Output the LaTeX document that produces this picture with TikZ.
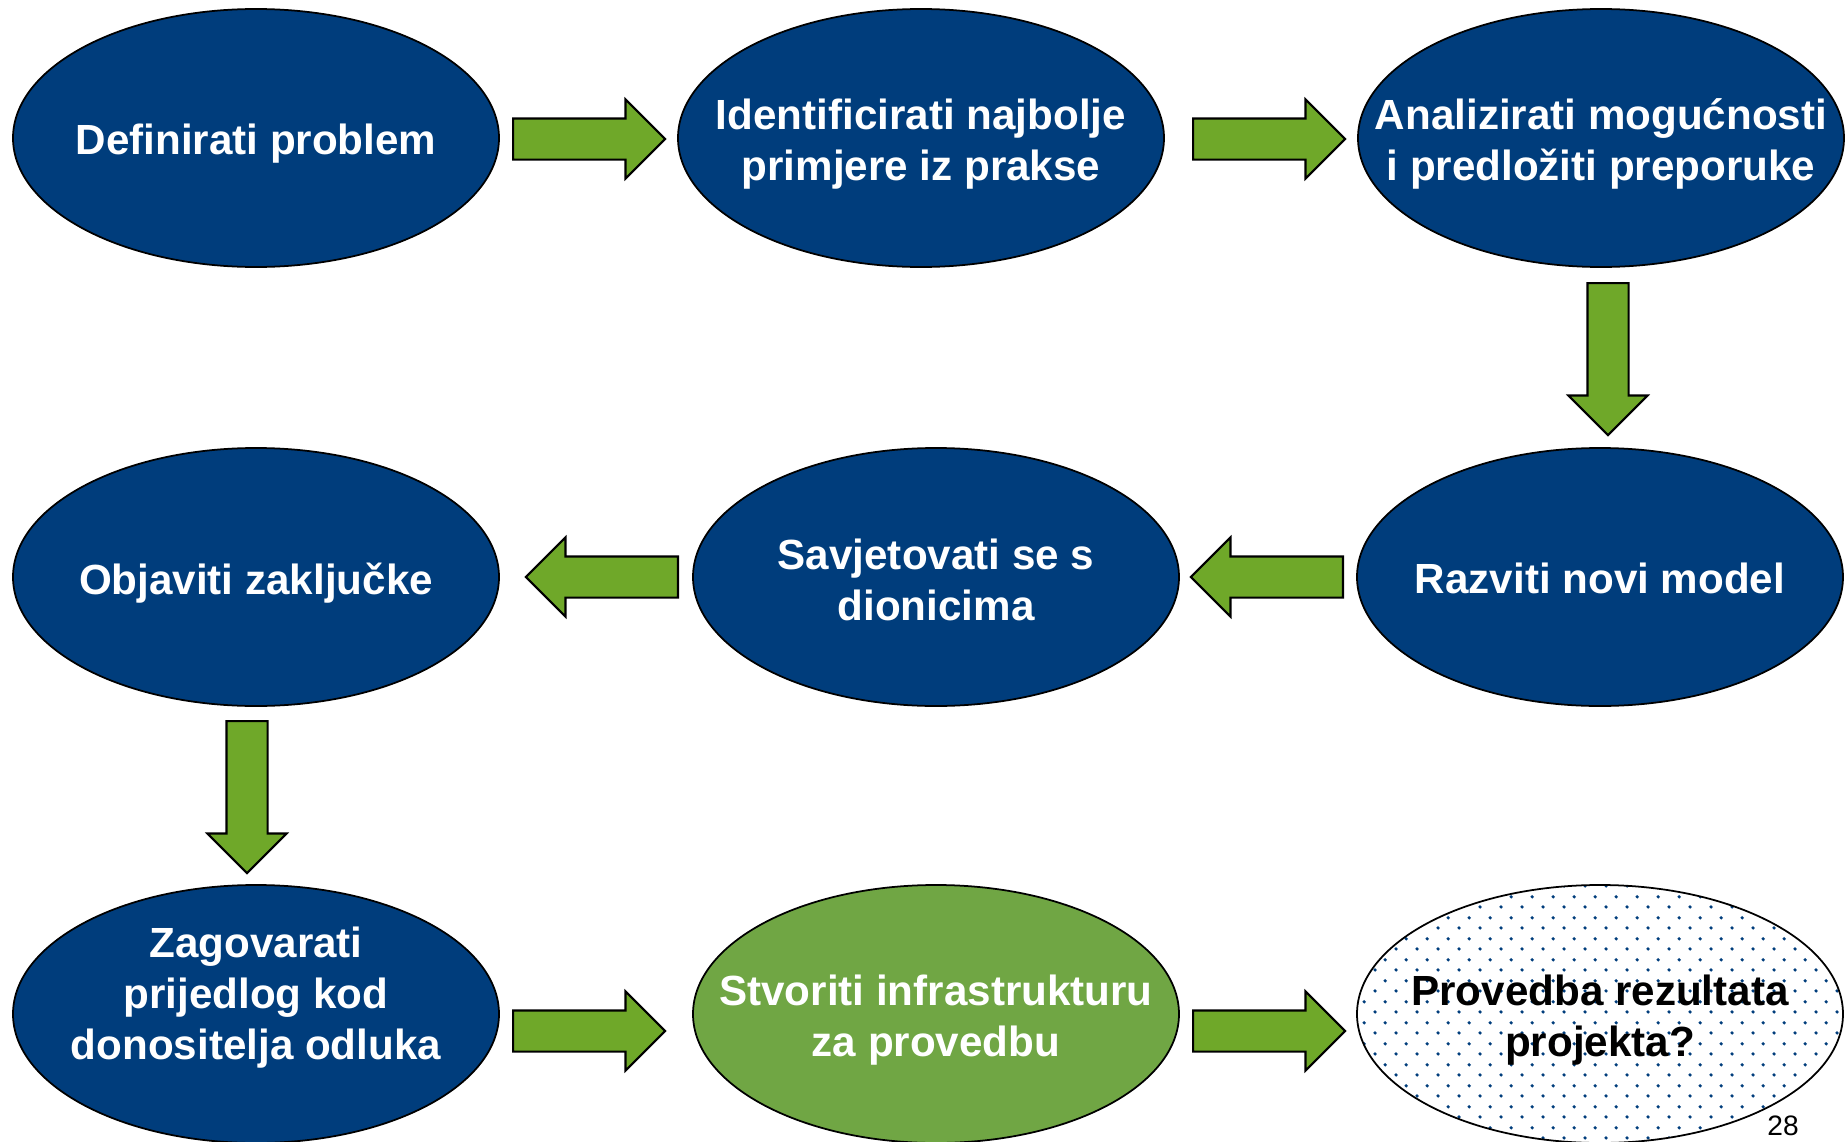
\documentclass[tikz,border=0pt]{standalone}
\usepackage{fontspec}
\setmainfont{Liberation Sans}
\usetikzlibrary{shapes.geometric,shapes.arrows,patterns.meta}
\definecolor{stepblue}{RGB}{0,61,124}
\definecolor{stepgreen}{RGB}{112,166,68}
\definecolor{arrowgreen}{RGB}{111,168,41}
\tikzdeclarepattern{
	name=stepdots,
	type=uncolored,
	bounding box={(0pt,0pt) and (6pt,6pt)},
	tile size={(6pt,6pt)},
	code={\fill (1.5pt,1.5pt) circle (0.55pt); \fill (4.5pt,4.5pt) circle (0.55pt);}
}
\tikzset{
	stepbox/.style={ellipse,draw=black,line width=0.5pt,fill=stepblue,minimum width=48.6mm,minimum height=25.8mm,inner sep=0pt},
	steptext/.style={text=white,font=\bfseries\fontsize{12}{14.5}\selectfont,align=center,yshift=-0.6mm},
	goal/.style={stepbox,fill=none,pattern={stepdots},pattern color=stepblue},
	flowarrow/.style={single arrow,anchor=tail,draw=black,line width=0.6pt,fill=arrowgreen,minimum height=15.2mm,inner xsep=0pt,inner ysep=1.95mm,single arrow head extend=1.9mm}
}
\begin{document}
\begin{tikzpicture}[x=0.1mm,y=-0.1mm]
			\useasboundingbox (0,0) rectangle (1845,1142);
			% first row
			\node[stepbox,label={[steptext]center:Definirati problem}] (def) at (256,138) {};
			\node[stepbox,label={[steptext]center:Identificirati najbolje\\primjere iz prakse}] (ide) at (921,138) {};
			\node[stepbox,label={[steptext]center:Analizirati mogućnosti\\i predložiti preporuke}] (ana) at (1601,138) {};
			% second row
			\node[stepbox,label={[steptext,yshift=0.45mm]center:Razviti novi model}] (raz) at (1600,577) {};
			\node[stepbox,label={[steptext,yshift=0.35mm]center:Savjetovati se s\\dionicima}] (sav) at (936,577) {};
			\node[stepbox,label={[steptext]center:Objaviti zaključke}] (obj) at (256,577) {};
			% third row
			\node[stepbox,label={[steptext,yshift=2.2mm]center:Zagovarati\\prijedlog kod\\donositelja odluka}] (zag) at (256,1014) {};
			\node[stepbox,fill=stepgreen,label={[steptext]center:Stvoriti infrastrukturu\\za provedbu}] (stv) at (936,1014) {};
			\node[goal,label={[steptext,text=black]center:Provedba rezultata\\projekta?}] (pro) at (1600,1014) {};
			
			\node[flowarrow] (defide) at (512,139) {};
			\node[flowarrow] (ideana) at (1192,139) {};
			\node[flowarrow,rotate=-90] (anaraz) at (1608,282) {};
			\node[flowarrow,rotate=180] (razsav) at (1344,577) {};
			\node[flowarrow,rotate=180] (savobj) at (679,577) {};
			\node[flowarrow,rotate=-90] (objzag) at (247,720) {};
			\node[flowarrow] (zagstv) at (512,1031) {};
			\node[flowarrow] (stvpro) at (1192,1031) {};
			
			\node[font=\fontsize{8}{10}\selectfont] (page) at (1783,1126) {28};
		\end{tikzpicture}
\end{document}
